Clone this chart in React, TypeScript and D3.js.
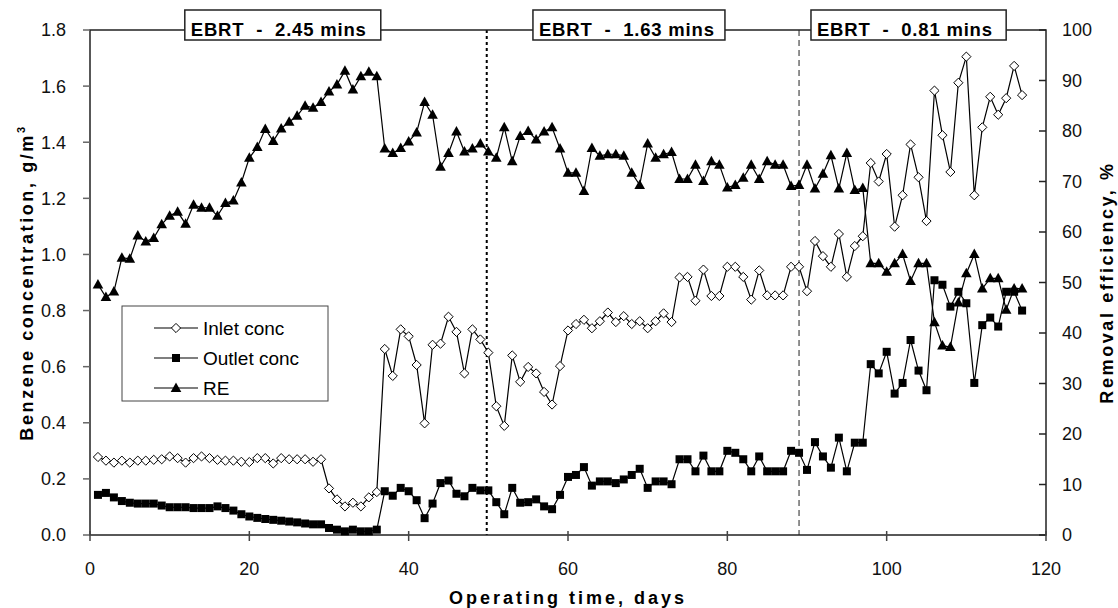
import React from 'react'
import * as d3 from 'd3'

// operating day of each sample
const days = [
  1, 2, 3, 4, 5, 6, 7, 8, 9, 10, 11, 12, 13, 14, 15, 16, 17, 18, 19, 20,
  21, 22, 23, 24, 25, 26, 27, 28, 29, 30, 31, 32, 33, 34, 35, 36, 37, 38, 39, 40,
  41, 42, 43, 44, 45, 46, 47, 48, 49, 50, 51, 52, 53, 54, 55, 56, 57, 58, 59, 60,
  61, 62, 63, 64, 65, 66, 67, 68, 69, 70, 71, 72, 73, 74, 75, 76, 77, 78, 79, 80,
  81, 82, 83, 84, 85, 86, 87, 88, 89, 90, 91, 92, 93, 94, 95, 96, 97, 98, 99, 100,
  101, 102, 103, 104, 105, 106, 107, 108, 109, 110, 111, 112, 113, 114, 115, 116, 117
]

// g/m3
const inletConc = [
  0.278, 0.265, 0.258, 0.265, 0.258, 0.265, 0.265, 0.268, 0.270, 0.280,
  0.274, 0.258, 0.274, 0.280, 0.274, 0.268, 0.265, 0.265, 0.261, 0.260,
  0.274, 0.274, 0.255, 0.274, 0.270, 0.270, 0.270, 0.261, 0.270, 0.166,
  0.127, 0.102, 0.115, 0.102, 0.134, 0.153, 0.663, 0.567, 0.733, 0.708,
  0.606, 0.398, 0.678, 0.682, 0.778, 0.724, 0.576, 0.733, 0.697, 0.650,
  0.459, 0.389, 0.640, 0.546, 0.599, 0.576, 0.510, 0.465, 0.602, 0.729,
  0.752, 0.767, 0.737, 0.762, 0.793, 0.759, 0.780, 0.752, 0.762, 0.737,
  0.762, 0.790, 0.759, 0.918, 0.920, 0.835, 0.946, 0.852, 0.852, 0.956,
  0.956, 0.920, 0.839, 0.943, 0.854, 0.854, 0.854, 0.956, 0.956, 0.869,
  1.048, 0.994, 0.956, 1.073, 0.920, 1.030, 1.065, 1.326, 1.260, 1.358,
  1.099, 1.211, 1.392, 1.275, 1.119, 1.584, 1.425, 1.294, 1.612, 1.705,
  1.211, 1.453, 1.562, 1.498, 1.557, 1.672, 1.568
]

const outletConc = [
  0.143, 0.150, 0.134, 0.121, 0.115, 0.112, 0.112, 0.112, 0.105, 0.099,
  0.099, 0.099, 0.096, 0.096, 0.096, 0.102, 0.096, 0.087, 0.074, 0.066,
  0.061, 0.057, 0.054, 0.051, 0.048, 0.045, 0.041, 0.038, 0.038, 0.025,
  0.019, 0.013, 0.019, 0.013, 0.013, 0.019, 0.156, 0.140, 0.168, 0.156,
  0.124, 0.060, 0.112, 0.185, 0.194, 0.147, 0.138, 0.168, 0.159, 0.159,
  0.117, 0.074, 0.168, 0.115, 0.117, 0.127, 0.102, 0.092, 0.143, 0.207,
  0.214, 0.242, 0.176, 0.191, 0.191, 0.185, 0.198, 0.214, 0.236, 0.168,
  0.191, 0.191, 0.181, 0.270, 0.270, 0.227, 0.283, 0.227, 0.227, 0.300,
  0.293, 0.270, 0.227, 0.280, 0.227, 0.227, 0.227, 0.300, 0.293, 0.232,
  0.331, 0.280, 0.240, 0.347, 0.227, 0.329, 0.329, 0.609, 0.576, 0.653,
  0.504, 0.542, 0.695, 0.586, 0.516, 0.908, 0.892, 0.814, 0.867, 0.826,
  0.542, 0.748, 0.775, 0.743, 0.867, 0.867, 0.800
]

// %
const removalEff = [
  49.6, 47.1, 48.2, 54.9, 54.7, 59.3, 58.1, 58.8, 61.5, 63.2,
  64.0, 61.6, 65.4, 64.8, 64.8, 63.2, 65.7, 66.2, 69.8, 74.7,
  76.8, 80.4, 78.0, 80.5, 81.8, 83.0, 85.0, 84.6, 85.7, 87.8,
  89.2, 91.9, 88.2, 90.8, 91.7, 90.8, 76.5, 75.6, 76.6, 77.9,
  79.7, 85.7, 83.2, 72.9, 75.6, 79.9, 75.9, 76.5, 77.5, 75.9,
  74.7, 80.7, 74.0, 79.0, 80.0, 78.3, 79.9, 80.7, 76.5, 71.7,
  71.7, 68.1, 76.6, 75.1, 75.4, 75.4, 75.1, 71.7, 69.3, 77.5,
  74.7, 75.4, 75.8, 70.5, 70.5, 73.3, 70.1, 74.0, 73.3, 68.8,
  69.3, 70.7, 73.3, 70.5, 74.0, 73.3, 73.3, 69.1, 69.3, 73.3,
  68.6, 71.5, 75.2, 68.6, 75.6, 68.3, 68.7, 53.8, 53.8, 52.1,
  53.8, 55.6, 50.3, 53.8, 53.8, 42.1, 37.5, 37.2, 46.0, 51.8,
  55.6, 48.8, 50.8, 50.8, 44.6, 48.8, 48.8
]

const xTicks = [0, 20, 40, 60, 80, 100, 120]
const concTicks = [0, 0.2, 0.4, 0.6, 0.8, 1.0, 1.2, 1.4, 1.6, 1.8]
const reTicks = [0, 10, 20, 30, 40, 50, 60, 70, 80, 90, 100]

// EBRT periods (box spans in days) and the lines between them
const phaseLabels = ['EBRT  -  2.45 mins', 'EBRT  -  1.63 mins', 'EBRT  -  0.81 mins']
const phaseStart = [11.9, 55.6, 90.5]
const phaseEnd = [36.5, 79.7, 115.0]
const phaseBreaks = [49.8, 89.0]

const W = 1118
const H = 608
const margin = {top: 30, right: 72, bottom: 73, left: 90}
const FONT = '"Liberation Sans", Arial, Helvetica, sans-serif'

const diamond = (r: number) => `M0,${-r}L${r},0L0,${r}L${-r},0Z`
const triangle = 'M0,-5.6L5.3,3.9L-5.3,3.9Z'

function Marker ({kind, x, y}: {kind: string, x: number, y: number}) {
  if (kind === 'diamond') {
    return <path d={diamond(4.6)} transform={`translate(${x},${y})`} fill='#fff' stroke='#000' strokeWidth={1} />
  }
  if (kind === 'square') {
    return <rect x={x - 4} y={y - 4} width={8} height={8} fill='#000' />
  }
  return <path d={triangle} transform={`translate(${x},${y})`} fill='#000' />
}

export default function App () {
  const x0 = margin.left
  const x1 = W - margin.right
  const y0 = H - margin.bottom
  const y1 = margin.top

  const x = d3.scaleLinear().domain([0, 120]).range([x0, x1])
  const yConc = d3.scaleLinear().domain([0, 1.8]).range([y0, y1])
  const yRe = d3.scaleLinear().domain([0, 100]).range([y0, y1])

  const series = [
    {name: 'Inlet conc', values: inletConc, y: yConc, kind: 'diamond'},
    {name: 'Outlet conc', values: outletConc, y: yConc, kind: 'square'},
    {name: 'RE', values: removalEff, y: yRe, kind: 'triangle'}
  ]

  const lineFor = (s: any) => d3.line<number>()
    .x((d, i) => x(days[i]))
    .y((d) => s.y(d))(s.values)

  const lx = 122
  const ly = 306

  return (
    <svg width={W} height={H} style={{position: 'absolute', left: 0, top: 0, background: '#fff'}} fontFamily={FONT}>
      <rect width={W} height={H} fill='#fff' />

      {/* phase separators */}
      <line x1={x(phaseBreaks[0])} x2={x(phaseBreaks[0])} y1={y1} y2={y0} stroke='#000' strokeWidth={2} strokeDasharray='3,3' />
      <line x1={x(phaseBreaks[1])} x2={x(phaseBreaks[1])} y1={y1} y2={y0} stroke='#222' strokeWidth={1} strokeDasharray='6,4' />

      {/* frame */}
      <rect x={x0} y={y1} width={x1 - x0} height={y0 - y1} fill='none' stroke='#222' strokeWidth={1.5} />

      {/* left axis ticks */}
      {concTicks.map((t) => (
        <g key={'c' + t}>
          <line x1={x0 - 7} x2={x0} y1={yConc(t)} y2={yConc(t)} stroke='#666' strokeWidth={1.5} />
          <text x={66} y={yConc(t)} dy='0.36em' textAnchor='end' fontSize={18} fill='#111'>{t.toFixed(1)}</text>
        </g>
      ))}

      {/* right axis ticks */}
      {reTicks.map((t) => (
        <g key={'r' + t}>
          <line x1={x1 - 7} x2={x1} y1={yRe(t)} y2={yRe(t)} stroke='#222' strokeWidth={1.5} />
          <text x={x1 + 16} y={yRe(t)} dy='0.36em' textAnchor='start' fontSize={18} fill='#111'>{t}</text>
        </g>
      ))}

      {/* bottom axis ticks */}
      {xTicks.map((t) => (
        <g key={'x' + t}>
          <line x1={x(t)} x2={x(t)} y1={y0 - 4} y2={y0 + 6} stroke='#444' strokeWidth={1.5} />
          <text x={x(t)} y={575} textAnchor='middle' fontSize={18} fill='#111'>{t}</text>
        </g>
      ))}

      {/* axis titles */}
      <text x={(x0 + x1) / 2} y={604} textAnchor='middle' fontSize={18} fontWeight='bold' letterSpacing={3} fill='#000'>
        Operating time, days
      </text>
      <text transform={`translate(33,${(y0 + y1) / 2}) rotate(-90)`} textAnchor='middle' fontSize={18} fontWeight='bold' letterSpacing={2.6} fill='#000'>
        Benzene concentration, g/m<tspan dy='-8' fontSize={11}>3</tspan>
      </text>
      <text transform={`translate(1113,${(y0 + y1) / 2}) rotate(-90)`} textAnchor='middle' fontSize={18} fontWeight='bold' letterSpacing={2.6} fill='#000'>
        Removal efficiency, %
      </text>

      {/* data */}
      {series.map((s) => (
        <g key={s.name}>
          <path d={lineFor(s) || ''} fill='none' stroke='#000' strokeWidth={1.2} />
          {s.values.map((v, i) => (
            <Marker key={i} kind={s.kind} x={x(days[i])} y={s.y(v)} />
          ))}
        </g>
      ))}

      {/* EBRT boxes */}
      {phaseLabels.map((label, i) => {
        const bx = x(phaseStart[i])
        const bw = x(phaseEnd[i]) - bx
        return (
          <g key={label}>
            <rect x={bx} y={10} width={bw} height={30} fill='#fff' stroke='#222' strokeWidth={1.5} />
            <text x={bx + 6} y={36} fontSize={18.5} fontWeight='bold' textLength={175} lengthAdjust='spacing' style={{whiteSpace: 'pre'}} fill='#000'>{label}</text>
          </g>
        )
      })}

      {/* legend */}
      <rect x={lx} y={ly} width={206} height={95} fill='#fff' stroke='#444' strokeWidth={1} />
      {series.map((s, i) => {
        const yy = ly + 22 + i * 30
        return (
          <g key={'lg' + s.name}>
            <line x1={lx + 32} x2={lx + 76} y1={yy} y2={yy} stroke='#000' strokeWidth={1.2} />
            <Marker kind={s.kind} x={lx + 54} y={yy} />
            <text x={lx + 81} y={yy} dy='0.36em' fontSize={19} fill='#000'>{s.name}</text>
          </g>
        )
      })}
    </svg>
  )
}
